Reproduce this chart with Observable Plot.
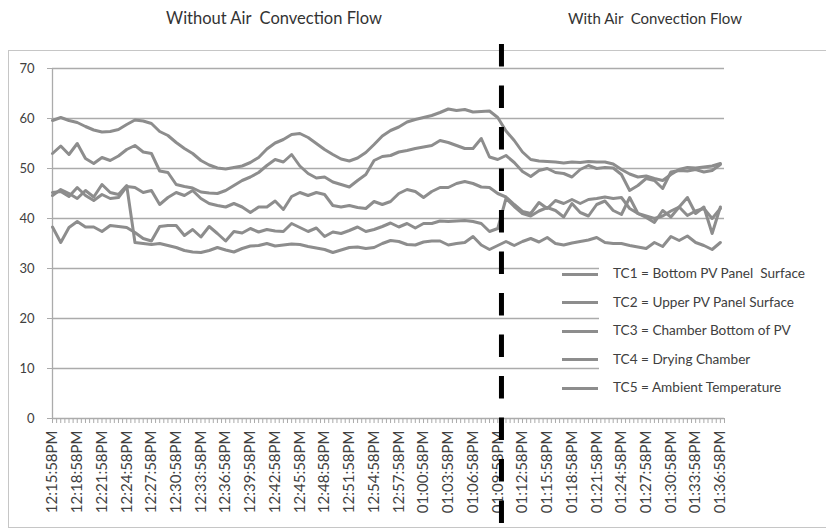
<!DOCTYPE html>
<html><head><meta charset="utf-8">
<script src="https://cdn.jsdelivr.net/npm/d3@7"></script>
<script src="https://cdn.jsdelivr.net/npm/@observablehq/plot@0.6"></script>
<style>
body{margin:0;background:#fff;font-family:Lato,"Open Sans",sans-serif;}
#wrap{position:relative;width:826px;height:529px;overflow:hidden;background:#fff;}
#box{position:absolute;left:8px;top:50px;width:900px;height:476px;border:1.5px solid #c6c6c6;}
#chart{position:absolute;left:0;top:0;}
.title{position:absolute;top:8px;line-height:20px;color:#333;white-space:pre;transform:translateX(-50%);}
#legendBg{position:absolute;left:599px;top:262px;width:130px;height:140px;background:#fff;}
#legend{position:absolute;left:562px;top:259px;}
.row{display:flex;align-items:center;height:28.5px;}
.sw{width:36px;height:3px;background:#8d8d8d;margin-right:15px;position:relative;top:1px;}
.lt{font-size:13.6px;color:#404040;white-space:pre;}
</style></head>
<body>
<div id="wrap">
  <div id="box"></div>
  <div id="chart"></div>
  <div id="legendBg"></div>
  <div id="legend"></div>
  <div class="title" style="left:274px;font-size:16.5px">Without Air  Convection Flow</div>
  <div class="title" style="left:655px;font-size:15px">With Air  Convection Flow</div>
</div>
<script>
// sample times: minutes since 12:15:58 PM, one reading per minute
const minute = d3.range(0, 82);
const tickLabels = ["12:15:58PM","12:18:58PM","12:21:58PM","12:24:58PM","12:27:58PM","12:30:58PM","12:33:58PM","12:36:58PM","12:39:58PM","12:42:58PM","12:45:58PM","12:48:58PM","12:51:58PM","12:54:58PM","12:57:58PM","01:00:58PM","01:03:58PM","01:06:58PM","01:09:58PM","01:12:58PM","01:15:58PM","01:18:58PM","01:21:58PM","01:24:58PM","01:27:58PM","01:30:58PM","01:33:58PM","01:36:58PM"];
const tickMinutes = tickLabels.map((d, i) => i * 3);
const yTicks = [0, 10, 20, 30, 40, 50, 60, 70];
const convectionAt = 54.45; // minutes after start, ~01:10:25PM

const legendLabels = ["TC1 = Bottom PV Panel  Surface","TC2 = Upper PV Panel Surface","TC3 = Chamber Bottom of PV","TC4 = Drying Chamber","TC5 = Ambient Temperature"];

const tc1 = [59.6,60.2,59.6,59.2,58.4,57.7,57.3,57.4,57.8,58.8,
 59.7,59.5,59.0,57.4,56.6,55.2,54.0,53.0,51.6,50.7,
 50.1,49.9,50.2,50.5,51.2,52.2,53.9,55.1,55.8,56.8,
 57.0,56.2,55.0,53.8,52.8,51.9,51.5,52.1,53.2,54.8,
 56.5,57.6,58.3,59.3,59.8,60.2,60.6,61.2,61.9,61.6,
 61.8,61.3,61.4,61.5,60.2,57.5,55.6,53.3,51.8,51.5,
 51.4,51.3,51.1,51.3,51.2,51.4,51.3,51.3,50.9,49.8,
 48.9,48.3,48.5,48.0,47.6,48.8,49.8,50.2,50.1,50.3,
 50.5,51.0];
const tc2 = [53.0,54.5,52.8,55.0,52.0,51.0,52.2,51.6,52.5,53.8,
 54.6,53.3,53.0,49.5,49.2,46.8,46.4,46.1,45.3,45.1,
 45.0,45.6,46.6,47.6,48.3,49.2,50.6,51.8,51.3,52.8,
 50.5,49.0,48.1,48.3,47.3,46.8,46.3,47.6,48.8,51.6,
 52.4,52.6,53.3,53.6,54.0,54.3,54.6,55.6,55.2,54.6,
 54.0,54.0,56.0,52.3,51.8,52.6,51.2,49.4,48.4,49.6,
 50.0,49.2,49.0,48.3,49.8,50.6,50.0,50.2,50.1,48.8,
 45.6,46.6,48.0,47.6,46.0,49.3,49.6,49.5,49.8,49.3,
 49.6,50.8];
const tc3 = [45.2,45.4,44.4,46.2,44.6,43.6,44.8,44.0,44.2,46.4,
 46.2,45.2,45.6,42.8,44.2,45.2,44.6,45.6,44.0,43.0,
 42.6,42.3,43.0,42.3,41.2,42.3,42.3,43.5,41.8,44.4,
 45.2,44.6,45.2,44.8,42.6,42.3,42.6,42.2,42.0,43.4,
 42.8,43.4,45.0,45.8,45.4,44.2,45.4,46.2,46.2,47.0,
 47.4,47.0,46.3,46.2,45.0,44.3,42.8,41.4,41.0,43.2,
 42.0,43.6,43.0,43.8,43.0,43.8,44.0,44.3,44.0,44.2,
 42.0,41.0,40.5,40.0,40.5,41.5,42.3,40.6,41.5,42.0,
 40.0,42.0];
const tc4 = [38.3,35.2,38.2,39.4,38.3,38.3,37.4,38.6,38.4,38.2,
 37.2,36.0,35.5,38.4,38.6,38.6,36.6,37.8,36.3,38.4,
 37.0,35.5,37.4,37.1,38.0,37.3,37.8,37.5,37.4,39.0,
 38.2,37.4,38.1,36.4,37.3,37.0,37.6,38.3,37.4,37.8,
 38.4,39.1,38.3,39.0,38.1,39.0,39.0,39.5,39.4,39.5,
 39.6,39.4,39.0,37.4,38.0,44.0,42.4,41.0,40.5,41.5,
 42.2,41.6,40.3,43.0,41.2,40.5,42.8,43.5,41.6,40.8,
 44.2,41.0,40.2,39.2,41.6,40.3,42.3,44.2,41.0,42.3,
 37.0,42.3];
const tc5 = [44.6,45.8,45.0,44.0,45.6,44.3,46.8,45.2,44.8,46.6,
 35.2,35.0,34.8,35.0,34.6,34.2,33.6,33.3,33.2,33.6,
 34.2,33.7,33.3,34.0,34.5,34.6,35.0,34.5,34.7,34.9,
 34.8,34.4,34.1,33.8,33.2,33.7,34.2,34.3,34.0,34.2,
 35.0,35.6,35.4,34.8,34.7,35.3,35.5,35.5,34.7,35.0,
 35.2,36.4,34.7,33.8,34.6,35.4,34.6,35.4,36.0,35.3,
 36.2,35.0,34.7,35.1,35.4,35.7,36.2,35.2,35.0,35.0,
 34.6,34.3,34.0,35.2,34.4,36.4,35.6,36.5,35.2,34.6,
 33.8,35.2];
const series = [tc1, tc2, tc3, tc4, tc5];
const minorTicks = d3.range(0, 81.6, 0.5);

const gray = "#8d8d8d";
const grid = "#ababab";

const chart = Plot.plot({
  width: 826, height: 529,
  marginTop: 68, marginBottom: 111, marginLeft: 52, marginRight: 102,
  x: {domain: [0, 81.5], axis: null},
  y: {domain: [0, 70], axis: null},
  style: {fontFamily: "Lato, 'Open Sans', sans-serif", background: "transparent", overflow: "visible"},
  marks: [
    Plot.gridY(yTicks, {stroke: grid, strokeOpacity: 1, strokeWidth: 1.3}),
    Plot.ruleX([0], {stroke: grid, strokeWidth: 1.3}),
    Plot.axisY(yTicks, {tickSize: 5, tickPadding: 13, fontSize: 13, color: "#404040", stroke: grid}),
    Plot.ruleX(minorTicks, {y1: 0, y2: -1, stroke: grid, strokeWidth: 1}),
    Plot.axisX(tickMinutes, {tickSize: 0, tickPadding: 12, tickRotate: -90, fontSize: 15, color: "#404040",
      tickFormat: (d) => tickLabels[Math.round(d / 3)]}),
    ...series.map(s => Plot.lineY(s, {x: minute, stroke: gray, strokeWidth: 3, strokeLinejoin: "round", curve: "linear"})),
    Plot.ruleX([convectionAt], {y1: 74.8, y2: -21.6, stroke: "#000", strokeWidth: 5, strokeDasharray: "22.5,19"})
  ]
});
document.getElementById("chart").appendChild(chart);

const leg = d3.select("#legend");
legendLabels.forEach(l => {
  const r = leg.append("div").attr("class", "row");
  r.append("div").attr("class", "sw");
  r.append("div").attr("class", "lt").text(l);
});
</script>
</body></html>
